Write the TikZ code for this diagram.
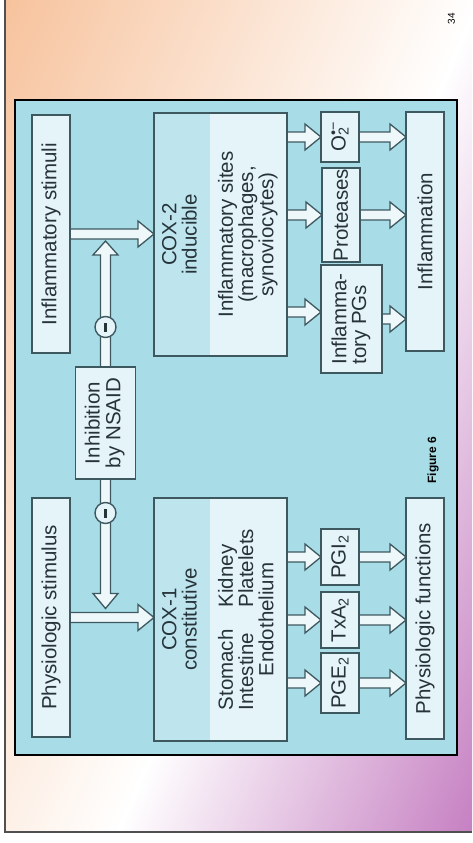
\documentclass[tikz,border=0pt]{standalone}
\usepackage{fontspec}
\setmainfont{Liberation Sans}
\usepackage{graphicx}
\usetikzlibrary{calc}

\definecolor{peachc}{HTML}{F7C29C}
\definecolor{lilacc}{HTML}{C680C2}
\definecolor{framec}{HTML}{505050}
\definecolor{panelc}{HTML}{A8DCE7}
\definecolor{boxc}{HTML}{E5F4F8}
\definecolor{coxc}{HTML}{BEE4EE}
\definecolor{edgec}{HTML}{3E5860}
\definecolor{txtc}{HTML}{26343A}
\definecolor{arrowc}{HTML}{EEF8FA}

\pgfdeclarelayer{back}
\pgfdeclarelayer{links}
\pgfsetlayers{back,links,main}

% peach -> white -> lilac, laid along the slide's diagonal
\pgfdeclarehorizontalshading{slidebg}{100bp}{color(0bp)=(peachc); color(25bp)=(peachc); color(53.8bp)=(white); color(75bp)=(lilacc); color(100bp)=(lilacc)}

% stacked lines of a label
\newcommand{\cellstack}[2][c]{\begin{tabular}{@{}#1@{}}#2\end{tabular}}
% a label that reads from bottom to top
\newcommand{\up}[1]{\rotatebox{90}{#1}}

% hollow block arrow pointing right, from #1 to #2 (same height)
\newcommand{\hfat}[2]{%
  \filldraw[fat] let \p1=#1, \p2=#2 in
    (\x1,\y1+5pt) -- (\x2-16pt,\y1+5pt) -- (\x2-16pt,\y1+13pt) -- (\x2,\y1)
    -- (\x2-16pt,\y1-13pt) -- (\x2-16pt,\y1-5pt) -- (\x1,\y1-5pt) -- cycle;}
% hollow block arrow with a head at both ends, #1 above #2
\newcommand{\vfat}[2]{%
  \filldraw[fat] let \p1=#1, \p2=#2 in
    (\x1,\y1) -- (\x1+12.5pt,\y1-14pt) -- (\x1+5pt,\y1-14pt) -- (\x1+5pt,\y2+15pt)
    -- (\x1+12.5pt,\y2+15pt) -- (\x1,\y2) -- (\x1-12.5pt,\y2+15pt) -- (\x1-5pt,\y2+15pt)
    -- (\x1-5pt,\y1-14pt) -- (\x1-12.5pt,\y1-14pt) -- cycle;}

\tikzset{
  lbl/.style={font=\fontsize{20.5}{18}\selectfont, text=txtc, inner sep=0pt},
  box/.style={lbl, draw=edgec, line width=1.4pt, fill=boxc, outer sep=0pt},
  fat/.style={draw=edgec, fill=arrowc, line width=1.3pt, line join=miter},
  minus/.style={circle, draw=edgec, line width=1.4pt, fill=boxc, minimum size=21pt,
    inner sep=0pt,
    path picture={\fill[txtc] ($(path picture bounding box.center)+(-1.5,-4.5)$)
      rectangle ($(path picture bounding box.center)+(1.5,4.5)$);}},
}

\begin{document}
\begin{tikzpicture}[x=1pt,y=-1pt]
\useasboundingbox (0,0) rectangle (472,843);

% slide background and the blue panel
\begin{pgfonlayer}{back}
  \fill[white] (0,0) rectangle (472,843);
  \begin{scope}
    \clip (5,0) rectangle (472,832);
    \begin{scope}[transform canvas={rotate=-23.46}]
      \shade[shading=slidebg] (0pt,-770pt) rectangle (764pt,195pt);
    \end{scope}
  \end{scope}
  \draw[line width=2pt, framec] (5,0) -- (5,832) -- (472,832);
  \draw[line width=2.5pt, fill=panelc] (15,100) rectangle (457,755);
\end{pgfonlayer}

% stimuli and inhibition
\node[box, minimum width=38, minimum height=238] (instim) at (51,234) {\up{Inflammatory stimuli}};
\node[box, minimum width=38, minimum height=239] (physstim) at (51,617.5) {\up{Physiologic stimulus}};
\node[box, minimum width=60, minimum height=112] (nsaid) at (105.5,423)
  {\up{\fontsize{20.5}{19.5}\selectfont\cellstack{Inhibition\\by NSAID}}};
\node[minus] (m1) at (105.5,327) {};
\node[minus] (m2) at (105.5,513) {};
\coordinate (vtop) at ($(nsaid |- instim.east)+(0,7)$);
\coordinate (vbot) at ($(nsaid |- physstim.east)+(0,-9)$);

% the two enzymes
\node[box, minimum width=133, minimum height=243] (cox2) at (220.5,234.5) {};
\node[box, minimum width=133, minimum height=243] (cox1) at (220.5,619.5) {};
\fill[coxc] (cox2.north west) rectangle ($(cox2.south west)+(56,0)$);
\fill[coxc] (cox1.north west) rectangle ($(cox1.south west)+(56,0)$);
\draw[edgec, line width=1.4pt] (cox2.north west) rectangle (cox2.south east);
\draw[edgec, line width=1.4pt] (cox1.north west) rectangle (cox1.south east);
\node[lbl] (cox2a) at ($(cox2.west)+(28,0)$) {\up{\cellstack{COX-2\\inducible}}};
\node[lbl] (cox2b) at ($(cox2.east)+(-38.5,0)$)
  {\up{\cellstack{Inflammatory sites\\(macrophages,\\synoviocytes)}}};
\node[lbl] (cox1a) at ($(cox1.west)+(28,0)$) {\up{\cellstack{COX-1\\constitutive}}};
\node[lbl] (cox1b) at ($(cox1.east)+(-38.5,0)$)
  {\up{\begin{tabular}{@{}l@{\hspace{22pt}}l@{}}Stomach & Kidney\\Intestine & Platelets\\
   \multicolumn{2}{c}{Endothelium}\end{tabular}}};

% products
\node[box, minimum width=38, minimum height=50] (o2) at (340,137)
  {\up{O\rlap{\textsubscript{2}}\textsuperscript{•−}}};
\node[box, minimum width=38, minimum height=94] (prot) at (341,215) {\up{Proteases}};
\node[box, minimum width=61, minimum height=108] (ipg) at (351.5,319)
  {\up{\cellstack[l]{Inflamma-\\tory PGs}}};
\node[box, minimum width=38, minimum height=56] (pgi2) at (340,557) {\up{PGI\textsubscript{2}}};
\node[box, minimum width=38, minimum height=56] (txa2) at (340,620) {\up{TxA\textsubscript{2}}};
\node[box, minimum width=38, minimum height=60] (pge2) at (340,683) {\up{PGE\textsubscript{2}}};

% outcomes
\node[box, minimum width=38, minimum height=239] (infl) at (425,231.5) {\up{Inflammation}};
\node[box, minimum width=38, minimum height=241] (physf) at (425,618.5) {\up{Physiologic functions}};

\node[font=\bfseries\fontsize{12}{12}\selectfont, inner sep=0pt] (fig) at (433,460) {\up{Figure 6}};
\node[font=\fontsize{10}{10}\selectfont, inner sep=0pt] (page) at (451.5,18.5) {\up{34}};

% block arrows, kept under the boxes
\begin{pgfonlayer}{links}
  \hfat{(instim.east)}{(cox2.west |- instim.east)}
  \hfat{(physstim.east)}{(cox1.west |- physstim.east)}
  \vfat{(vtop)}{(vbot)}
  \hfat{(cox2.east |- o2.west)}{(o2.west)}
  \hfat{(cox2.east |- prot.west)}{(prot.west)}
  \hfat{($(cox2.east |- ipg.west)+(0,-7)$)}{($(ipg.west)+(0,-7)$)}
  \hfat{(cox1.east |- pgi2.west)}{(pgi2.west)}
  \hfat{(cox1.east |- txa2.west)}{(txa2.west)}
  \hfat{(cox1.east |- pge2.west)}{(pge2.west)}
  \hfat{(o2.east)}{(infl.west |- o2.east)}
  \hfat{(prot.east)}{(infl.west |- prot.east)}
  \hfat{(ipg.east)}{(infl.west |- ipg.east)}
  \hfat{(pgi2.east)}{(physf.west |- pgi2.east)}
  \hfat{(txa2.east)}{(physf.west |- txa2.east)}
  \hfat{(pge2.east)}{(physf.west |- pge2.east)}
\end{pgfonlayer}
\end{tikzpicture}
\end{document}
